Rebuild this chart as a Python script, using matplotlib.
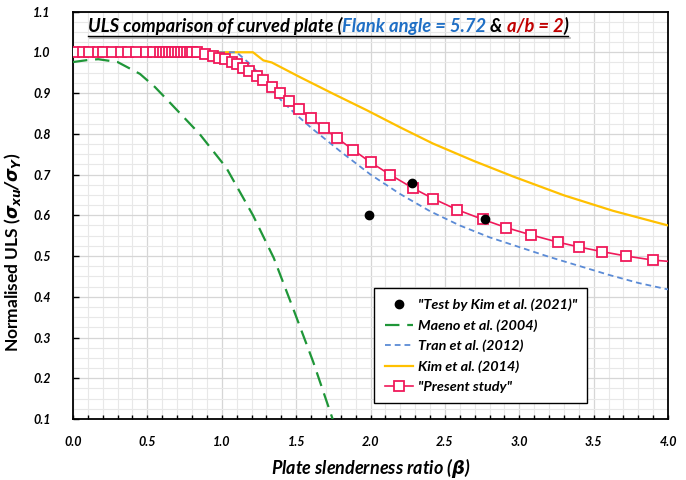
import numpy as np
import matplotlib
matplotlib.use("Agg")
from matplotlib import pyplot as plt
from matplotlib.lines import Line2D
from matplotlib.ticker import MultipleLocator

plt.rcParams['font.family'] = ['Lato', 'DejaVu Sans']
plt.rcParams['font.weight'] = 'bold'
plt.rcParams['font.style'] = 'italic'
plt.rcParams['axes.labelweight'] = 'bold'
plt.rcParams['mathtext.fontset'] = 'dejavusans'

# test results
test_beta = [1.99, 2.28, 2.77]
test_uls = [0.600, 0.678, 0.590]

# Maeno et al. (2004)
maeno_beta = [0.0, 0.1, 0.17, 0.3, 0.45, 0.55, 0.65, 0.85, 1.03, 1.21, 1.35, 1.48, 1.615, 1.75]
maeno_uls = [0.976, 0.981, 0.983, 0.976, 0.947, 0.915, 0.877, 0.800, 0.717, 0.600, 0.495, 0.371, 0.240, 0.095]

# Tran et al. (2012)
tran_beta = [0.0, 1.1, 1.2, 1.3, 1.4, 1.5, 1.6, 1.8, 2.0, 2.2, 2.4, 2.6, 2.8, 3.0, 3.2, 3.4, 3.6, 3.8, 4.0]
tran_uls = [1.0, 1.0, 0.968, 0.925, 0.882, 0.847, 0.815, 0.756, 0.700, 0.652, 0.610, 0.575, 0.546, 0.522,
            0.498, 0.476, 0.454, 0.434, 0.418]

# Kim et al. (2014)
kim_beta = [0.0, 1.21, 1.28, 1.336, 1.526, 1.75, 1.974, 2.198, 2.42, 2.69, 2.96, 3.30, 3.63, 4.0]
kim_uls = [1.0, 1.0, 0.980, 0.975, 0.939, 0.898, 0.858, 0.816, 0.776, 0.734, 0.695, 0.649, 0.611, 0.575]

# present study
present_beta = [0.01, 0.07, 0.11, 0.165, 0.2, 0.265, 0.325, 0.37, 0.425, 0.49, 0.535,
                0.585, 0.605, 0.625, 0.645, 0.665, 0.685, 0.705, 0.725, 0.745, 0.765, 0.785, 0.80,
                0.835, 0.887, 0.943, 0.984, 1.022, 1.067, 1.10, 1.14, 1.185, 1.235, 1.28, 1.336,
                1.39, 1.455, 1.52, 1.60, 1.685, 1.777, 1.885, 2.0, 2.13, 2.283, 2.42, 2.58, 2.754,
                2.91, 3.077, 3.26, 3.404, 3.554, 3.718, 3.90, 4.0]
present_uls = [1.0] * 24 + [0.995, 0.991, 0.987, 0.983, 0.976, 0.970, 0.962, 0.953, 0.943, 0.931, 0.916,
                            0.900, 0.881, 0.860, 0.839, 0.814, 0.789, 0.760, 0.730, 0.700, 0.667, 0.641,
                            0.614, 0.590, 0.570, 0.552, 0.534, 0.522, 0.511, 0.500, 0.490, 0.487]

fig = plt.figure(figsize=(6.86, 4.80), dpi=100)
ax = fig.add_axes([0.1064, 0.127, 0.8674, 0.849])

ax.plot(kim_beta, kim_uls, color='#ffc000', lw=1.6, label='Kim et al. (2014)', zorder=3)
ax.plot(tran_beta, tran_uls, color='#5b8bd6', lw=1.3, dashes=(3.2, 2.2), label='Tran et al. (2012)', zorder=3)
ax.plot(maeno_beta, maeno_uls, color='#1f9638', lw=1.6, dashes=(6.5, 3.5), label='Maeno et al. (2004)', zorder=3)
ax.plot(present_beta, present_uls, color='#f0195a', lw=1.2, marker='s', ms=7, mfc='white', mec='#f0195a',
        mew=1.3, markevery=list(range(len(present_beta) - 1)), label='"Present study"', zorder=4)
ax.plot(test_beta, test_uls, 'o', color='black', ms=6, label='"Test by Kim et al. (2021)"', zorder=5)

ax.set_xlim(0, 4.0)
ax.set_ylim(0.1, 1.1)
ax.xaxis.set_major_locator(MultipleLocator(0.5))
ax.xaxis.set_minor_locator(MultipleLocator(0.1))
ax.yaxis.set_major_locator(MultipleLocator(0.1))
ax.yaxis.set_minor_locator(MultipleLocator(0.025))
ax.xaxis.set_major_formatter(lambda v, p: f'{v:.1f}')
ax.yaxis.set_major_formatter(lambda v, p: f'{v:.1f}')

ax.grid(which='major', color='#d6d6d6', lw=0.9)
ax.grid(which='minor', color='#e8e8e8', lw=0.8)
ax.set_axisbelow(True)

ax.tick_params(axis='x', which='both', direction='in', length=3, width=1, pad=12, labelsize=9)
ax.tick_params(axis='y', which='major', direction='in', length=4, width=1, pad=16, labelsize=9)
ax.tick_params(axis='y', which='minor', length=0)
for s in ax.spines.values():
    s.set_linewidth(1.3)

ax.set_xlabel(r'Plate slenderness ratio ($\beta$)', fontsize=13)
ax.set_ylabel(r'Normalised ULS ($\sigma_{xu}/\sigma_{Y}$)', fontsize=12.5, fontstyle='normal')
ax.yaxis.set_label_coords(-0.084, 0.41)
ax.xaxis.set_label_coords(0.5, -0.09)

handles, labels = ax.get_legend_handles_labels()
order = [4, 2, 1, 0, 3]
leg = ax.legend([handles[i] for i in order], [labels[i] for i in order],
                loc='lower right', bbox_to_anchor=(0.864, 0.039),
                prop={'size': 10.4, 'weight': 'bold', 'style': 'italic'},
                fancybox=False, framealpha=1, edgecolor='black', borderpad=0.7,
                labelspacing=0.55, handlelength=2.0, handletextpad=0.3, borderaxespad=0)
leg.get_frame().set_linewidth(1.0)

# title made of coloured pieces, underlined as one
pieces = [('ULS comparison of curved plate (', 'black'),
          ('Flank angle = 5.72', '#1f6fc5'),
          (' & ', 'black'),
          ('a/b = 2', '#c00000'),
          (')', 'black')]
fig.canvas.draw()
renderer = fig.canvas.get_renderer()
x0 = 88 / 686
y0 = 1 - 32 / 480
x = x0
for txt, col in pieces:
    t = fig.text(x, y0, txt, color=col, fontsize=13.2, va='baseline', ha='left')
    bb = t.get_window_extent(renderer)
    x = fig.transFigure.inverted().transform((bb.x1, bb.y0))[0]
uy = y0 - 3.5 / 480
fig.add_artist(Line2D([x0 + 1.5 / 686, x + 1.5 / 686], [uy - 2 / 480, uy - 2 / 480], color='#b0b0b0',
                      lw=1.2, transform=fig.transFigure))
fig.add_artist(Line2D([x0, x], [uy, uy], color='black', lw=1.0, transform=fig.transFigure))

fig.savefig('out.png', dpi=100)
